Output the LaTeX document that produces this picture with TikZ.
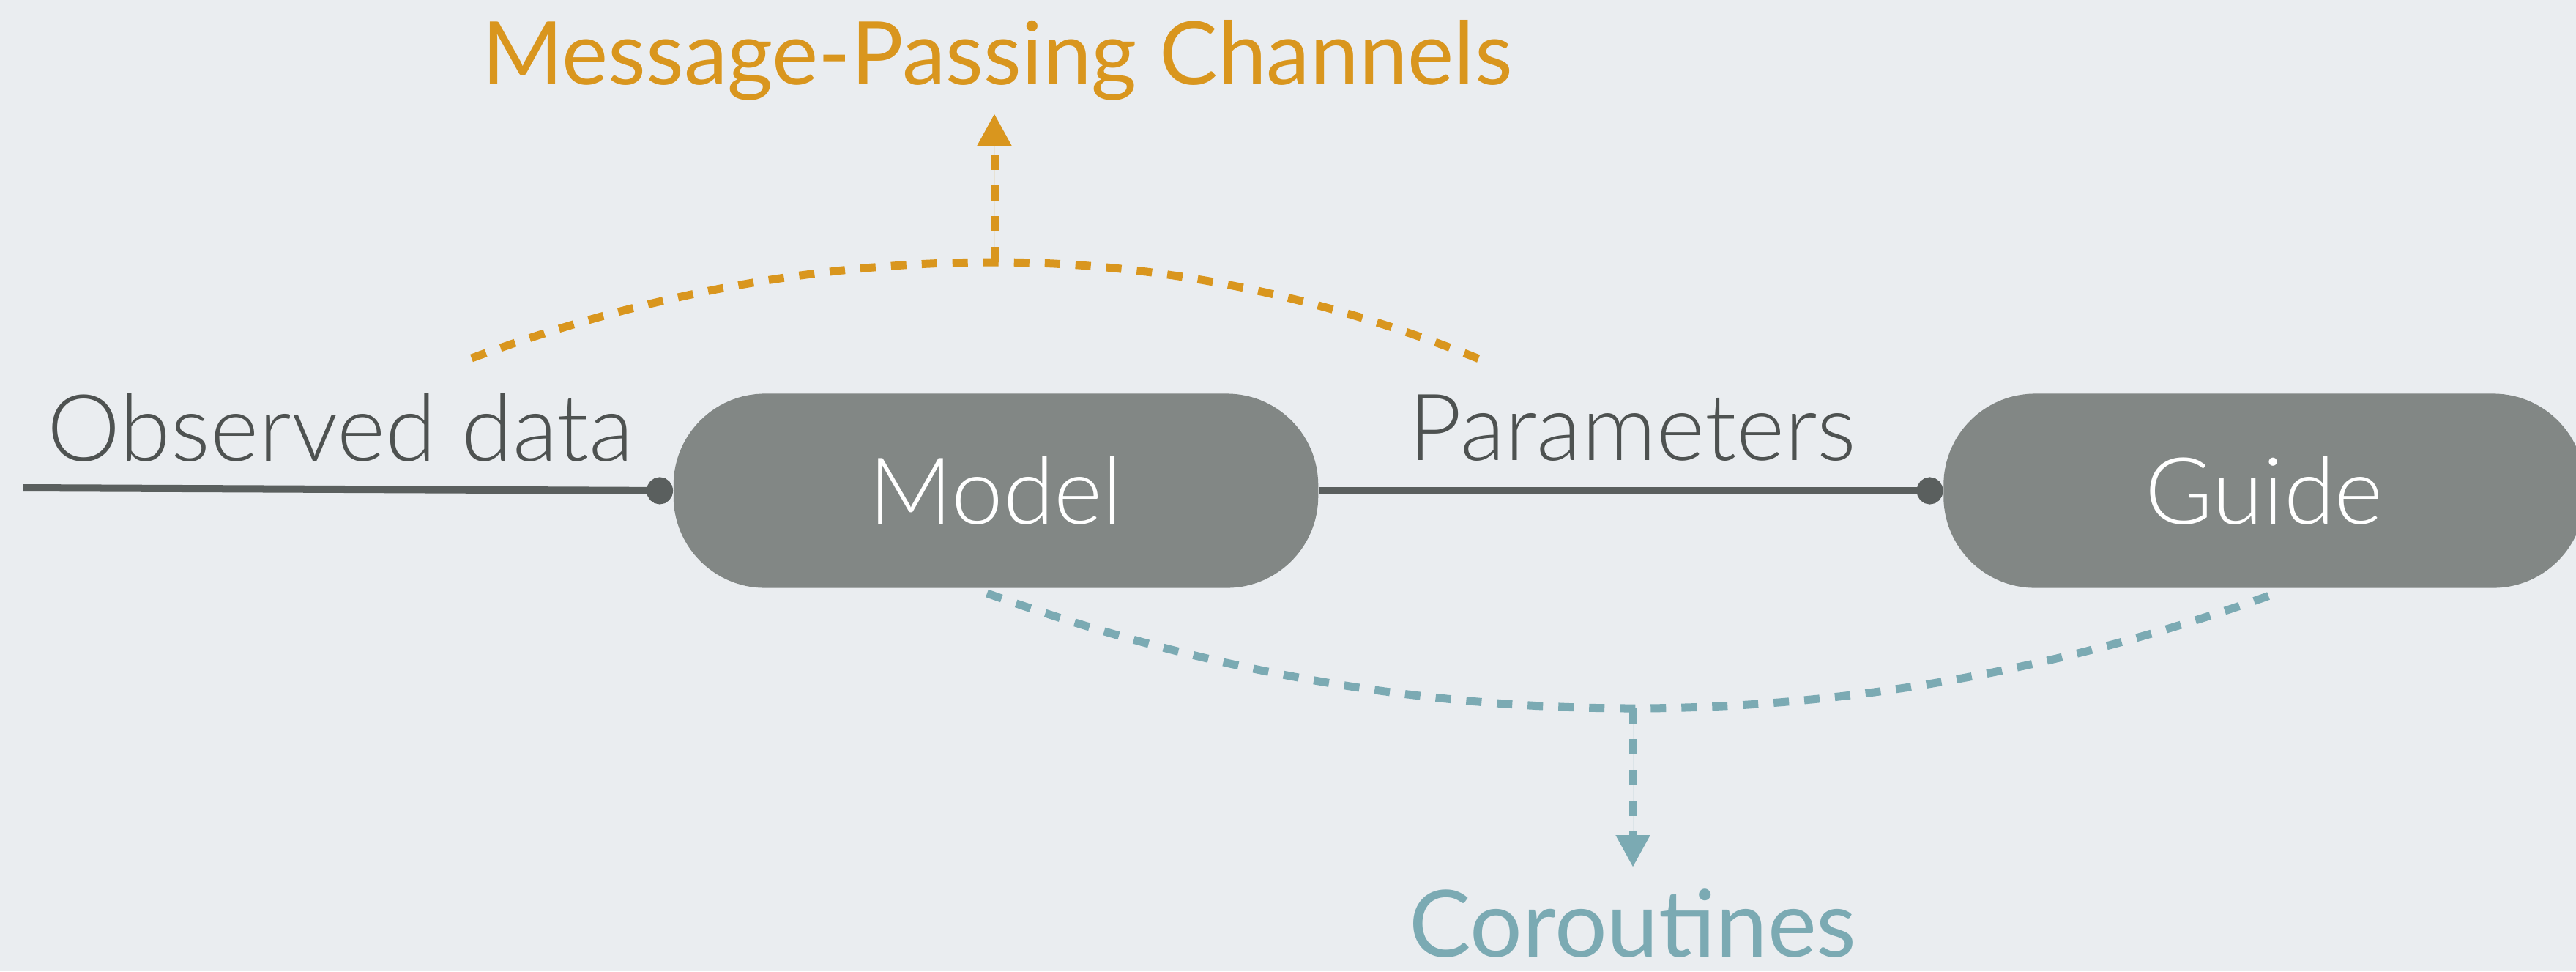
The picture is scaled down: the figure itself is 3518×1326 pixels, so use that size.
\documentclass[tikz,border=0pt]{standalone}
\usepackage{fontspec}
\setmainfont{Lato}
\newfontfamily\lightfont{Lato Light}
\usetikzlibrary{arrows.meta,calc}
\definecolor{bg}{RGB}{234,237,240}
\definecolor{nodefill}{RGB}{130,135,133}
\definecolor{linegray}{RGB}{90,95,94}
\definecolor{textgray}{RGB}{78,82,81}
\definecolor{mpcorange}{RGB}{217,150,30}
\definecolor{coteal}{RGB}{123,170,179}
\begin{document}
\begin{tikzpicture}[x=0.01cm,y=-0.01cm,
  pill/.style={rectangle, rounded corners=1.25cm, fill=nodefill, minimum height=2.65cm,
    text=white, inner sep=0pt, font=\lightfont\fontsize{36}{40}\selectfont},
  lbl/.style={text=textgray, inner sep=0pt, anchor=base, font=\lightfont\fontsize{36}{40}\selectfont},
  ttl/.style={inner sep=0pt, anchor=base, font=\fontsize{34}{38}\selectfont},
  conn/.style={draw=linegray, line width=0.1cm, -{Circle[length=0.36cm,width=0.37cm]}},
  arcline/.style={line width=0.11cm, dash pattern=on 0.21cm off 0.21cm},
  vline/.style={line width=0.11cm, dash pattern=on 0.21cm off 0.21cm, -{Triangle[length=0.44cm,width=0.44cm]}}
]
\path[use as bounding box, fill=bg] (0,0) rectangle (3518,1326);

% nodes
\node[pill, minimum width=8.8cm] (model) at (1360,670) {Model};
\node[pill, minimum width=8.75cm] (guide) at (3092,670) {Guide};

% labels
\node[lbl] (obslbl) at (465,629) {Observed data};
\node[lbl] (parlbl) at (2229,628) {Parameters};
\node[ttl, text=mpcorange] (mpc) at (1362,115) {Message-Passing Channels};
\node[ttl, text=coteal, font=\fontsize{36}{40}\selectfont] (coro) at (2230,1306) {Coroutines};

% solid connectors
\coordinate (obs) at (32,666);
\draw[conn] (obs) -- (model.west);
\draw[conn] (model.east) -- (guide.west);

% message-passing arc
\coordinate (mpcL) at (644,489);
\coordinate (mpcA) at (1358,358);
\coordinate (mpcR) at (2030,494);
\coordinate (mpcTip) at (1358,155);
\draw[arcline, draw=mpcorange] (mpcL) .. controls (881,402) and (1119,358) .. (mpcA)
  .. controls (1581,358) and (1805,403) .. (mpcR);
\draw[vline, draw=mpcorange, fill=mpcorange] (mpcA) -- (mpcTip);

% coroutines arc
\coordinate (coL) at (1348,810);
\coordinate (coA) at (2230,967);
\coordinate (coR) at (3108,810);
\coordinate (coTip) at (2230,1184);
\draw[arcline, draw=coteal] (coL) .. controls (1642,915) and (1936,967) .. (coA)
  .. controls (2523,967) and (2815,915) .. (coR);
\draw[vline, draw=coteal, fill=coteal] (coA) -- (coTip);
\end{tikzpicture}
\end{document}
